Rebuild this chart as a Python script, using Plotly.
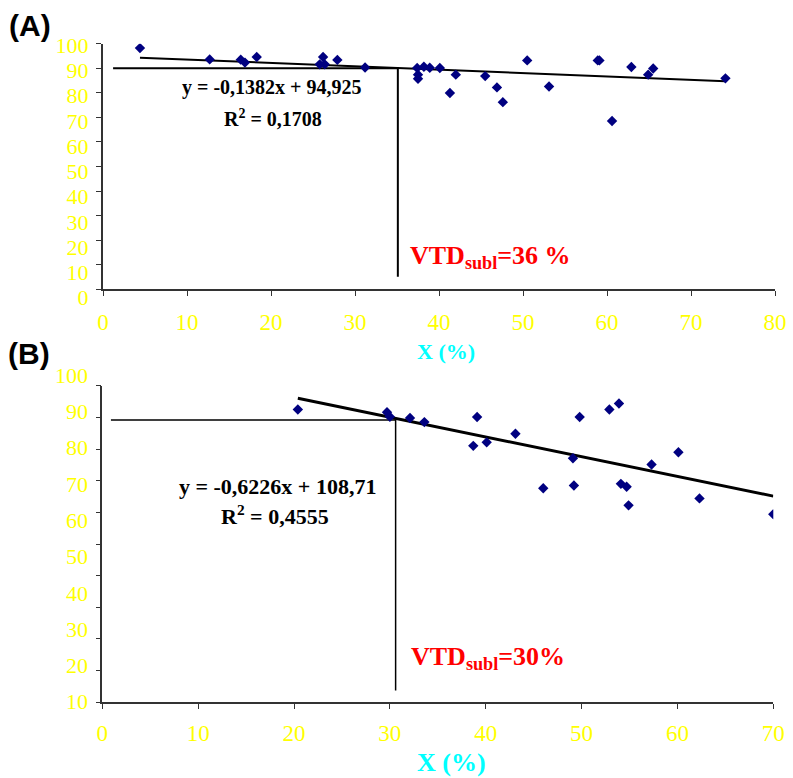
import plotly.graph_objects as go

# ---------------- data ----------------
# Panel A
xa = [4.4, 12.7, 16.4, 16.9, 18.3, 26.2, 25.8, 26.4, 27.9, 31.2,
      37.4, 37.5, 37.5, 38.2, 38.9, 40.1, 41.3, 42.0, 45.5, 46.9,
      47.6, 50.5, 53.1, 58.9, 59.1, 60.6, 62.9, 64.9, 65.5, 74.1]
ya = [98.2, 93.6, 93.5, 92.3, 94.6, 94.6, 91.6, 91.6, 93.4, 90.3,
      90.1, 87.4, 85.7, 90.6, 90.2, 90.1, 79.9, 87.4, 86.8, 82.2,
      76.2, 93.2, 82.6, 93.2, 93.2, 68.5, 90.5, 87.4, 89.9, 85.9]
slope_a, intercept_a = -0.1382, 94.925
vtd_a, level_a, hline_start_a, vline_bottom_a = 35.1, 90.0, 1.2, 5.1

# Panel B
xb = [20.4, 29.7, 30.0, 32.1, 33.6, 39.1, 38.7, 40.1, 43.1, 46.0,
      49.1, 49.2, 49.8, 52.9, 53.9, 54.1, 54.7, 54.9, 57.3, 60.1,
      62.3, 70.0]
yb = [92.5, 91.6, 90.2, 89.8, 88.5, 90.1, 81.0, 82.1, 84.8, 67.6,
      77.1, 68.5, 90.1, 92.5, 94.4, 69.0, 68.1, 62.2, 75.1, 79.0,
      64.4, 59.4]
slope_b, intercept_b = -0.6226, 108.71
vtd_b, level_b, hline_start_b, vline_bottom_b = 30.6, 89.2, 0.9, 3.7

xticks_a = [0, 10, 20, 30, 40, 50, 60, 70, 80]
yticks_a = [0, 10, 20, 30, 40, 50, 60, 70, 80, 90, 100]
xticks_b = [0, 10, 20, 30, 40, 50, 60, 70]
yticks_b = [0, 10, 20, 30, 40, 50, 60, 70, 80, 90, 100]
ylabels_b = [10, 20, 30, 40, 50, 60, 70, 80, 90, 100]

# ---------------- layout helpers ----------------
W, H = 793, 778
def px(v):
    return v / W
def py(v):
    return 1 - v / H

SERIF = "Liberation Serif, Times New Roman, serif"
NAVY = "#000080"
YELLOW = "#FFFF00"
CYAN = "#00FFFF"

fig = go.Figure()

def add_panel(xs, ys, slope, intercept, vtd, level, hstart, vbottom, xa_name, ya_name,
              reg_w, ref_w):
    x0, x1 = min(xs), max(xs)
    fig.add_trace(go.Scatter(x=[x0, x1], y=[slope * x0 + intercept, slope * x1 + intercept],
                             mode="lines", line=dict(color="black", width=reg_w),
                             xaxis=xa_name, yaxis=ya_name, showlegend=False, hoverinfo="skip"))
    fig.add_trace(go.Scatter(x=[hstart, vtd, vtd], y=[level, level, vbottom],
                             mode="lines", line=dict(color="black", width=ref_w),
                             xaxis=xa_name, yaxis=ya_name, showlegend=False, hoverinfo="skip"))
    fig.add_trace(go.Scatter(x=xs, y=ys, mode="markers",
                             marker=dict(symbol="diamond", size=8, color=NAVY),
                             xaxis=xa_name, yaxis=ya_name, showlegend=False))

add_panel(xa, ya, slope_a, intercept_a, vtd_a, level_a, hline_start_a, vline_bottom_a,
          "x", "y", 2, 2)
add_panel(xb, yb, slope_b, intercept_b, vtd_b, level_b, hline_start_b, vline_bottom_b,
          "x2", "y2", 3, 1.5)

# empty traces so the label-only axes are drawn
fig.add_trace(go.Scatter(x=[None], y=[None], xaxis="x", yaxis="y3", showlegend=False,
                         hoverinfo="skip"))
fig.add_trace(go.Scatter(x=[None], y=[None], xaxis="x2", yaxis="y4", showlegend=False,
                         hoverinfo="skip"))

axis_common = dict(showgrid=False, zeroline=False, showline=True, linecolor="#333333",
                   ticks="outside", ticklen=5, tickcolor="#333333", fixedrange=True,
                   automargin=False)

fig.update_layout(
    width=W, height=H, autosize=False, showlegend=False,
    margin=dict(l=0, r=0, t=0, b=0, pad=0, autoexpand=False),
    paper_bgcolor="white", plot_bgcolor="rgba(0,0,0,0)",
    # Panel A
    xaxis=dict(domain=[px(103), px(775)], range=[0, 80], anchor="y",
               tickvals=xticks_a, linewidth=1.5,
               tickfont=dict(family=SERIF, size=23, color=YELLOW), ticklabelstandoff=6,
               **axis_common),
    yaxis=dict(domain=[py(289.3), py(43.7)], range=[0, 100], anchor="x",
               tickvals=yticks_a, showticklabels=False, linewidth=1.5, **axis_common),
    yaxis3=dict(domain=[py(297.7), py(45)], range=[0, 100], anchor="free",
                position=px(103), tickvals=yticks_a, showgrid=False, zeroline=False,
                showline=False, ticks="outside", ticklen=10, tickcolor="rgba(0,0,0,0)",
                tickfont=dict(family=SERIF, size=22, color=YELLOW), fixedrange=True,
                automargin=False),
    # Panel B
    xaxis2=dict(domain=[px(102.3), px(773.3)], range=[0, 70], anchor="y2",
                tickvals=xticks_b, linewidth=1.5,
                tickfont=dict(family=SERIF, size=23, color=YELLOW), ticklabelstandoff=4,
                **axis_common),
    yaxis2=dict(domain=[py(702.3), py(385.7)], range=[0, 100], anchor="x2",
                tickvals=yticks_b, showticklabels=False, linewidth=1.5, **axis_common),
    yaxis4=dict(domain=[py(701.7), py(375)], range=[10, 100], anchor="free",
                position=px(102.3), tickvals=ylabels_b, showgrid=False, zeroline=False,
                showline=False, ticks="outside", ticklen=10, tickcolor="rgba(0,0,0,0)",
                tickfont=dict(family=SERIF, size=22, color=YELLOW), fixedrange=True,
                automargin=False),
)

annotations = [
    dict(text="<b>(A)</b>", xref="paper", yref="paper", x=px(30), y=py(26),
         font=dict(family="Liberation Sans, Arial, sans-serif", size=30, color="black")),
    dict(text="<b>(B)</b>", xref="paper", yref="paper", x=px(29), y=py(353),
         font=dict(family="Liberation Sans, Arial, sans-serif", size=30, color="black")),
    dict(text="<b>y = -0,1382x + 94,925</b>", xref="x", yref="y", x=20.1, y=82.1,
         font=dict(family=SERIF, size=20, color="black")),
    dict(text="<b>R<sup>2</sup> = 0,1708</b>", xref="x", yref="y", x=20.2, y=69.8,
         font=dict(family=SERIF, size=20, color="black")),
    dict(text="<b>VTD<sub>subl</sub>=36 %</b>", xref="x", yref="y", x=36.3, y=13.2,
         xanchor="left", font=dict(family=SERIF, size=26, color="#FF0000")),
    dict(text="<b>y = -0,6226x + 108,71</b>", xref="x2", yref="y2", x=18.3, y=68.3,
         font=dict(family=SERIF, size=22, color="black")),
    dict(text="<b>R<sup>2</sup> = 0,4555</b>", xref="x2", yref="y2", x=18.0, y=59.2,
         font=dict(family=SERIF, size=22, color="black")),
    dict(text="<b>VTD<sub>subl</sub>=30%</b>", xref="x2", yref="y2", x=32.0, y=14.0,
         xanchor="left", font=dict(family=SERIF, size=26, color="#FF0000")),
    dict(text="<b>X (%)</b>", xref="paper", yref="paper", x=px(446), y=py(351),
         font=dict(family=SERIF, size=22, color=CYAN)),
    dict(text="<b>X (%)</b>", xref="paper", yref="paper", x=px(451), y=py(762),
         font=dict(family=SERIF, size=26, color=CYAN)),
]
for a in annotations:
    a.setdefault("xanchor", "center")
    a["yanchor"] = "middle"
    a["showarrow"] = False
fig.update_layout(annotations=annotations)

fig.write_html("out.html", config={"displayModeBar": False})
